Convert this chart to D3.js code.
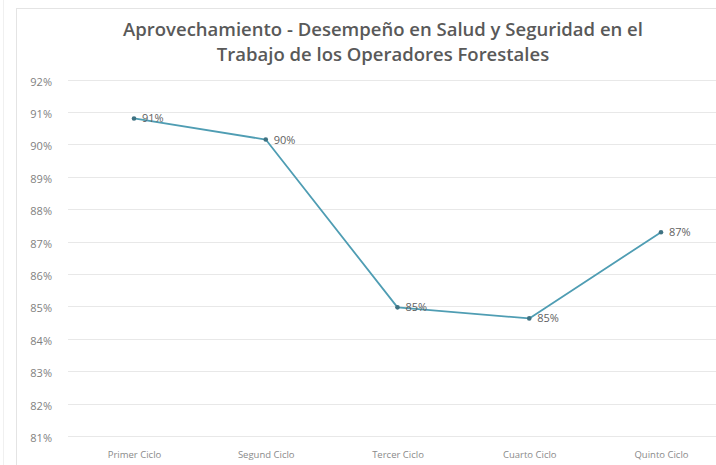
<!DOCTYPE html>
<html>
<head>
<meta charset="utf-8">
<script src="https://cdn.jsdelivr.net/npm/d3@7"></script>
<style>
html,body{margin:0;padding:0;background:#fff;}
svg{display:block;}
</style>
</head>
<body>
<svg id="chart" width="716" height="465"></svg>
<script>
const titleLines = ["Aprovechamiento - Desempeño en Salud y Seguridad en el", "Trabajo de los Operadores Forestales"];
const categories = ["Primer Ciclo", "Segund Ciclo", "Tercer Ciclo", "Cuarto Ciclo", "Quinto Ciclo"];
const values = [0.908, 0.9015, 0.8497, 0.8463, 0.8729];
const valueLabels = ["91%", "90%", "85%", "85%", "87%"];
const yTicks = [0.81, 0.82, 0.83, 0.84, 0.85, 0.86, 0.87, 0.88, 0.89, 0.90, 0.91, 0.92];

const svg = d3.select("#chart");
const font = "'Open Sans', 'Liberation Sans', sans-serif";

// frame
svg.append("line").attr("x1", 3.5).attr("x2", 3.5).attr("y1", 0).attr("y2", 465).attr("stroke", "#f0f0f0");
svg.append("rect").attr("x", 16.5).attr("y", 8.5).attr("width", 720).attr("height", 470)
  .attr("fill", "none").attr("stroke", "#e4e4e4");

const x = d3.scalePoint().domain(categories).range([134, 661]);
const y = d3.scaleLinear().domain([0.81, 0.92]).range([436, 79.6]);

// gridlines
svg.append("g").selectAll("line").data(yTicks).join("line")
  .attr("x1", 68).attr("x2", 716)
  .attr("y1", d => Math.round(y(d)) + 0.5).attr("y2", d => Math.round(y(d)) + 0.5)
  .attr("stroke", "#e8e8e8").attr("stroke-width", 1);

// y axis labels
const yAxis = d3.axisLeft(y).tickValues(yTicks).tickFormat(d3.format(".0%")).tickSize(0).tickPadding(0);
const gy = svg.append("g").attr("transform", "translate(52,2)").call(yAxis);
gy.select(".domain").remove();
gy.selectAll("text").attr("fill", "#7f7f7f").style("font-family", font).style("font-size", "11px");

// x axis labels
const xAxis = d3.axisBottom(x).tickSize(0).tickPadding(0);
const gx = svg.append("g").attr("transform", "translate(0,451)").call(xAxis);
gx.select(".domain").remove();
gx.selectAll("text").attr("fill", "#8a8a8a").style("font-family", font).style("font-size", "9.5px");

// title
svg.append("g").selectAll("text").data(titleLines).join("text")
  .attr("x", 383).attr("y", (d, i) => 36 + i * 25)
  .attr("text-anchor", "middle")
  .attr("fill", "#595959")
  .style("font-family", font).style("font-weight", "600").style("font-size", "18.5px")
  .text(d => d);

// line
const pts = categories.map((c, i) => ({c, v: values[i], l: valueLabels[i]}));
const line = d3.line().x(d => x(d.c)).y(d => y(d.v));
svg.append("path").datum(pts).attr("d", line)
  .attr("fill", "none").attr("stroke", "#4f9db3").attr("stroke-width", 1.8)
  .attr("stroke-linejoin", "round");

svg.append("g").selectAll("circle").data(pts).join("circle")
  .attr("cx", d => x(d.c)).attr("cy", d => y(d.v)).attr("r", 2.3)
  .attr("fill", "#3f7282");

svg.append("g").selectAll("text").data(pts).join("text")
  .attr("x", d => x(d.c) + 8).attr("y", d => y(d.v) + 4)
  .attr("fill", "#5f5f5f")
  .style("font-family", font).style("font-size", "11px")
  .text(d => d.l);
</script>
</body>
</html>
